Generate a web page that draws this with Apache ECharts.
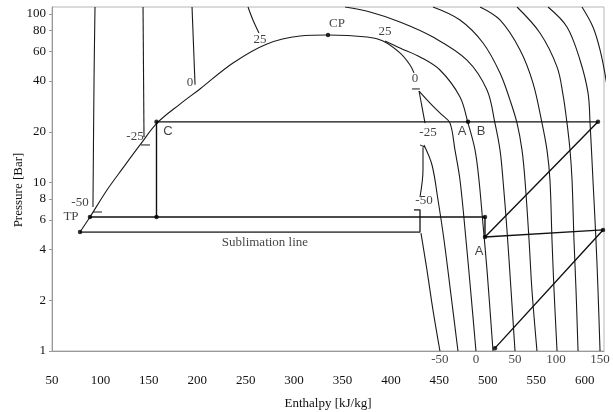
<!DOCTYPE html>
<html><head><meta charset="utf-8">
<script src="https://cdn.jsdelivr.net/npm/echarts@6/dist/echarts.min.js"></script>
<style>html,body{margin:0;padding:0;background:#fff}#c{width:613px;height:412px}</style>
</head><body><div id="c"></div>
<script>
// ---- data (enthalpy kJ/kg, pressure bar) ----
const xTickValues = [50,100,150,200,250,300,350,400,450,500,550,600];
const yTickValues = [1,2,4,6,8,10,20,40,60,80,100];

const saturationDome = [[78.9,5.08],[89.2,6.24],[106.8,9.03],[123.3,12.2],[140.9,16.7],[158.4,22.5],[182.2,29.2],[202.8,35.9],[236.9,51.2],[272.0,66.4],[306.1,74.0],[335.0,75.1],[375.3,73.0],[391.8,69.1],[409.3,58.7],[419.7,49.8],[423.8,44.7]];
const vaporLineA = [[429.0,34.9],[435.2,22.5]];
const vaporLineB = [[433.1,16.2],[433.1,11.9],[430.0,8.20]];
const sublimationLine = [[78.9,5.08],[430.0,5.08],[430.0,6.87],[423.8,6.87]];

// short marker ticks beside the dome labels
const tickLeftM50 = [[92.3,6.68],[101.6,6.68]];
const tickLeftM25 = [[141.9,16.7],[151.2,16.7]];
const tickRight0 = [[421.7,35.9],[429.9,35.9]];
const tickRightM25 = [[430.0,16.7],[435.2,16.2]];

// liquid-side isotherms
const liqM50 = [[94.4,110],[93.4,40.6],[92.3,7.15]];
const liqM25 = [[144.0,110],[145.0,18.6]];
const liq0 = [[194.6,110],[197.7,38.0]];
const liq25 = [[252.4,110],[257.5,92.1],[263.7,77.1]];

// vapour / supercritical isotherms
const vapM50 = [[431.0,5.01],[437.2,3.02],[443.4,1.75],[450.6,1]];
const vapM25 = [[434.1,16.7],[442.4,12.7],[448.6,7.87],[454.8,4.56],[462.0,2.15],[469.2,1]];
const vap0 = [[429.0,34.9],[443.4,28.4],[452.7,25.2],[461.0,22.5],[466.1,15.6],[471.3,10.35],[477.5,4.56],[482.7,2.15],[487.8,1]];
const vap25 = [[393.9,69.1],[409.3,62.8],[430.0,55.6],[450.6,46.5],[471.3,32.2],[479.6,22.5],[486.8,15.6],[490.9,10.35],[495.1,5.59],[499.2,3.02],[505.4,1]];
const iso50 = [[352.6,110],[378.4,102.8],[409.3,89.7],[443.4,73.0],[478.5,53.3],[499.2,35.4],[507.4,22.5],[512.6,15.6],[515.7,10.35],[519.8,5.23],[524.0,2.30],[528.1,1]];
const iso75 = [[443.4,110],[471.3,92.1],[495.1,67.3],[512.6,44.7],[522.9,30.9],[530.2,22.5],[535.3,15.6],[538.4,10.35],[542.6,4.56],[545.6,2.30],[550.8,1]];
const iso100 = [[492.0,110],[512.6,92.1],[533.3,61.2],[546.7,38.9],[556.0,22.5],[561.1,15.6],[564.2,10.35],[566.3,4.56],[568.4,2.30],[571.5,1]];
const iso125 = [[530.2,110],[553.9,77.1],[571.5,48.5],[577.7,33.1],[581.8,22.5],[584.9,15.6],[587.0,10.35],[589.0,4.56],[591.1,2.30],[593.2,1]];
const iso150 = [[562.2,110],[581.8,83.7],[595.2,53.3],[603.5,34.0],[605.6,22.5],[608.6,10.35],[611.7,4.56],[613.8,2.30],[615.9,1]];
const iso175 = [[597.3,110],[608.6,83.7],[615.9,61.2],[622.1,40.6],[626.2,26.9]];

// refrigeration cycle
const cycleLow = [[89.2,6.24],[497.1,6.24],[497.1,4.75]];
const cycleC = [[157.9,22.9],[157.9,6.24]];
const cycleHigh = [[157.9,22.9],[613.8,22.9],[497.1,4.75],[619.0,5.23],[507.4,1.04]];
const cyclePoints = [[78.9,5.08],[89.2,6.24],[157.9,6.24],[497.1,6.24],[497.1,4.75],[157.9,22.9],[479.6,22.9],[613.8,22.9],[619.0,5.23],[507.4,1.04],[335.0,75.1]];

// annotations [h, P, text]
const serifLabels = [[344.3,87.2,'CP'],[393.9,78.5,'25'],[424.8,41.1,'0'],[438.3,19.9,'-25'],[434.1,7.77,'-50'],[69.6,6.24,'TP'],[78.9,7.55,'-50'],[135.7,18.6,'-25'],[192.5,38.9,'0'],[264.8,70.1,'25'],[269.9,4.37,'Sublimation line']];
const sansLabels = [[473.4,20.2,'A'],[493.0,20.2,'B'],[490.9,3.92,'A'],[169.8,20.2,'C']];
const bottomLabels = [[450.6,1,'-50'],[487.8,1,'0'],[528.1,1,'50'],[570.4,1,'100'],[615.9,1,'150']];

// ---- chart ----
const SERIF = '"Liberation Serif","DejaVu Serif",serif';
const SANS = '"Liberation Sans",Arial,sans-serif';
function line(data, opts) {
  return Object.assign({type:'line', data, showSymbol:false, silent:true, smooth:0.35,
    lineStyle:{color:'#1a1a1a', width:1.1}, z:2}, opts||{});
}
const curveSets = [saturationDome, vaporLineA, vaporLineB, liqM50, liqM25, liq0, liq25,
  vapM50, vapM25, vap0, vap25, iso50, iso75, iso100, iso125, iso150, iso175];
const series = curveSets.map(d => line(d));
[tickLeftM50, tickLeftM25, tickRight0, tickRightM25].forEach(d =>
  series.push(line(d, {smooth:false, lineStyle:{color:'#1a1a1a', width:1}})));
series.push(line(sublimationLine, {smooth:false, lineStyle:{color:'#555', width:1.8}}));
series.push(line(cycleLow, {smooth:false, lineStyle:{color:'#111', width:1.4}}));
series.push(line(cycleC, {smooth:false, lineStyle:{color:'#111', width:1.4}}));
series.push(line(cycleHigh, {smooth:false, lineStyle:{color:'#111', width:1.4}}));
series.push({type:'scatter', data:cyclePoints, symbolSize:4.5, itemStyle:{color:'#000'}, silent:true, z:5});
function textSeries(arr, font, size, pos, dist) {
  return {type:'scatter', silent:true, symbolSize:0, clip:false, z:6,
    data: arr.map(a => ({value:[a[0],a[1]], name:a[2]})),
    label:{show:true, position:pos||'inside', distance:dist||0, formatter:p=>p.name,
      fontFamily:font, fontSize:size, color:'#111'}};
}
series.push(textSeries(serifLabels, SERIF, 13));
series.push(textSeries(sansLabels, SANS, 13));
series.push(textSeries(bottomLabels, SERIF, 13, 'bottom', 2));

const chart = echarts.init(document.getElementById('c'), null, {renderer:'canvas'});
chart.setOption({
  animation:false,
  backgroundColor:'#fff',
  grid:{left:52, right:9, top:7, bottom:61, show:true, borderColor:'#b5b5b5', borderWidth:1,
    containLabel:false, outerBoundsMode:'none'},
  xAxis:{type:'value', min:50, max:620, interval:50,
    name:'Enthalpy [kJ/kg]', nameLocation:'middle', nameGap:46,
    nameTextStyle:{fontFamily:SERIF, fontSize:13, color:'#111'},
    axisLine:{lineStyle:{color:'#999'}}, axisTick:{show:false}, splitLine:{show:false},
    axisLabel:{margin:23, fontFamily:SERIF, fontSize:13, color:'#111',
      customValues:xTickValues}},
  yAxis:{type:'log', logBase:10, min:1, max:110,
    name:'Pressure [Bar]', nameLocation:'middle', nameGap:27, nameMoveOverlap:false,
    nameTextStyle:{fontFamily:SERIF, fontSize:13, color:'#111', padding:[0,0,0,-22]},
    axisLine:{show:true, lineStyle:{color:'#999'}},
    axisTick:{show:true, length:3, lineStyle:{color:'#999'}, customValues:yTickValues},
    splitLine:{show:false}, minorTick:{show:false},
    axisLabel:{margin:6, fontFamily:SERIF, fontSize:13, color:'#111', customValues:yTickValues}},
  series
});
</script></body></html>
